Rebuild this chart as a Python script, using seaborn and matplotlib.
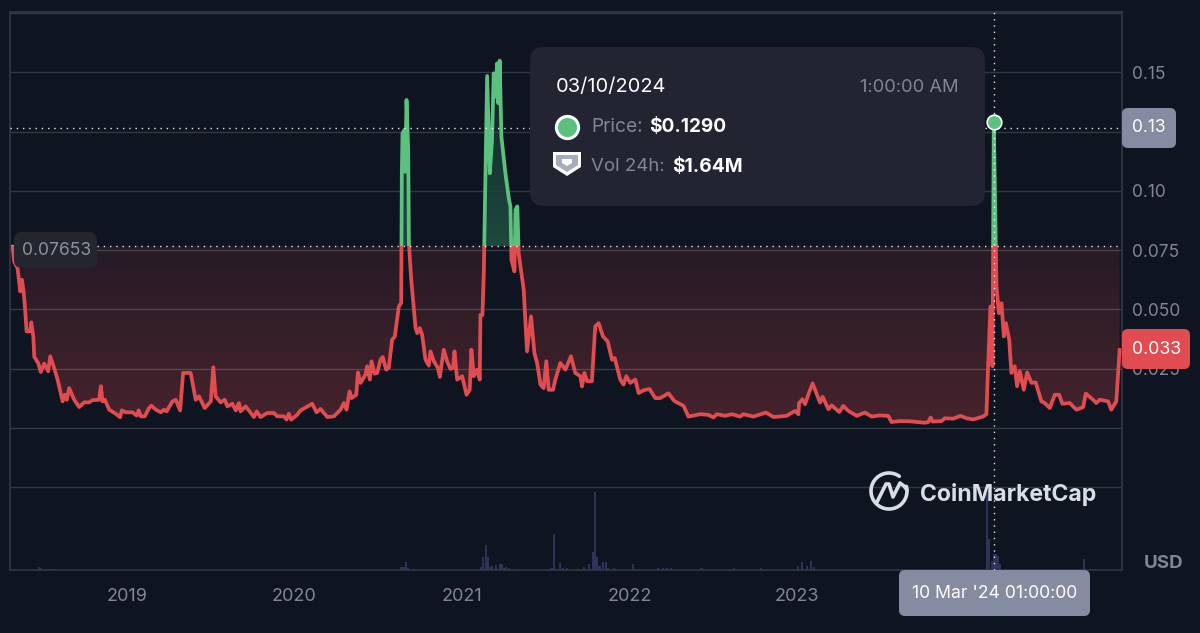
import numpy as np
import matplotlib
matplotlib.use("Agg")
import matplotlib.pyplot as plt
from matplotlib.patches import FancyBboxPatch, Polygon, Rectangle
from matplotlib.lines import Line2D
from matplotlib.transforms import Affine2D
import seaborn as sns

# Weekly price history, as decimal years and USD
price_years = [
    2018.319, 2018.328, 2018.348, 2018.364, 2018.374, 2018.384, 2018.392, 2018.402, 2018.424, 2018.430,
    2018.442, 2018.448, 2018.471, 2018.487, 2018.507, 2018.531, 2018.543, 2018.563, 2018.587, 2018.617,
    2018.630, 2018.642, 2018.656, 2018.686, 2018.716, 2018.746, 2018.775, 2018.795, 2018.835, 2018.845,
    2018.855, 2018.869, 2018.895, 2018.934, 2018.960, 2018.970, 2018.994, 2019.034, 2019.059, 2019.071,
    2019.083, 2019.107, 2019.133, 2019.147, 2019.173, 2019.203, 2019.222, 2019.238, 2019.272, 2019.292,
    2019.318, 2019.336, 2019.381, 2019.411, 2019.431, 2019.465, 2019.501, 2019.516, 2019.530, 2019.560,
    2019.584, 2019.600, 2019.630, 2019.650, 2019.669, 2019.679, 2019.709, 2019.759, 2019.775, 2019.798,
    2019.838, 2019.878, 2019.898, 2019.938, 2019.953, 2019.967, 2019.981, 2020.017, 2020.037, 2020.106,
    2020.132, 2020.156, 2020.196, 2020.236, 2020.275, 2020.295, 2020.311, 2020.329, 2020.341, 2020.369,
    2020.379, 2020.395, 2020.424, 2020.434, 2020.450, 2020.460, 2020.478, 2020.494, 2020.514, 2020.527,
    2020.547, 2020.563, 2020.583, 2020.599, 2020.623,
    2020.637, 2020.641, 2020.645, 2020.657, 2020.661, 2020.669, 2020.679, 2020.683, 2020.697, 2020.723,
    2020.733, 2020.748, 2020.762, 2020.782, 2020.802, 2020.812, 2020.832, 2020.856, 2020.868, 2020.891,
    2020.911, 2020.931, 2020.947, 2020.955, 2020.971, 2021.001, 2021.027, 2021.046, 2021.056, 2021.070,
    2021.090, 2021.106, 2021.110, 2021.122, 2021.130, 2021.150, 2021.166, 2021.179, 2021.189, 2021.199,
    2021.209, 2021.217, 2021.225, 2021.235, 2021.259, 2021.279, 2021.289, 2021.295, 2021.313, 2021.319,
    2021.330, 2021.338, 2021.368, 2021.388, 2021.412, 2021.432, 2021.448, 2021.468, 2021.487, 2021.503,
    2021.517, 2021.543, 2021.557, 2021.587, 2021.617, 2021.650, 2021.676, 2021.706, 2021.716, 2021.730,
    2021.746, 2021.775, 2021.795, 2021.815, 2021.841, 2021.869, 2021.895, 2021.911, 2021.944, 2021.964,
    2021.980, 2022.004, 2022.034, 2022.054, 2022.083, 2022.119, 2022.153, 2022.183,
    2022.232, 2022.266, 2022.322, 2022.351, 2022.421, 2022.471, 2022.500, 2022.520, 2022.570, 2022.610,
    2022.659, 2022.679, 2022.739, 2022.814, 2022.858, 2022.937, 2022.987, 2023.007, 2023.011, 2023.031,
    2023.047, 2023.067, 2023.092, 2023.136, 2023.152, 2023.186, 2023.206, 2023.251, 2023.275, 2023.305,
    2023.355, 2023.404, 2023.444, 2023.494, 2023.543, 2023.563, 2023.613, 2023.672, 2023.762, 2023.782,
    2023.796, 2023.808, 2023.861, 2023.881, 2023.931, 2023.974, 2024.010, 2024.050, 2024.109, 2024.129,
    2024.139, 2024.153, 2024.161, 2024.165, 2024.173, 2024.189, 2024.203, 2024.219, 2024.233, 2024.245,
    2024.265, 2024.278, 2024.298, 2024.312, 2024.328, 2024.352, 2024.372, 2024.398, 2024.423, 2024.457,
    2024.477, 2024.507, 2024.537, 2024.563, 2024.582, 2024.626, 2024.666, 2024.706, 2024.722, 2024.765,
    2024.785, 2024.805, 2024.855, 2024.874, 2024.904, 2024.924,
]
price_values = [
    .07653, .0702, .0674, .0576, .0625, .0576, .0512, .0407, .0407, .0445,
    .0386, .0299, .0274, .0236, .0271, .0239, .0302, .0260, .0204, .0112,
    .0140, .0119, .0168, .0119, .0088, .0108, .0108, .0117, .0119, .0176,
    .0112, .0119, .0077, .0060, .0045, .0074, .0066, .0066, .0052, .0074,
    .0049, .0049, .0084, .0094, .0077, .0066, .0077, .0070, .0112, .0119,
    .0074, .0232, .0232, .0119, .0133, .0084, .0112, .0256, .0133, .0108,
    .0119, .0091, .0102, .0074, .0105, .0070, .0091, .0046, .0070, .0046,
    .0063, .0063, .0049, .0049, .0035, .0060, .0035, .0056, .0074, .0102,
    .0066, .0080, .0046, .0049, .0077, .0105, .0077, .0154, .0126, .0140,
    .0234, .0190, .0225, .0260, .0204, .0281, .0229, .0232, .0288, .0299,
    .0246, .0253, .0372, .0386, .0512,
    .0527, .1074, .1243, .1257, .1080, .1383, .1172, .0780, .0625, .0421,
    .0400, .0421, .0393, .0288, .0263, .0323, .0281, .0253, .0215, .0330,
    .0281, .0249, .0253, .0323, .0204, .0218, .0140, .0161, .0330, .0218,
    .0246, .0204, .0477, .0477, .0653, .1484, .1074, .1214, .1495, .1397,
    .1537, .1369, .1549, .1228, .1074, .0969, .0934, .0709, .0660, .0920,
    .0934, .0737, .0583, .0323, .0470, .0316, .0274, .0183, .0168, .0281,
    .0161, .0161, .0204, .0274, .0246, .0302, .0232, .0218, .0175, .0232,
    .0197, .0197, .0428, .0442, .0386, .0365, .0288, .0295, .0204, .0183,
    .0218, .0190, .0204, .0147, .0159, .0164, .0126, .0126,
    .0146, .0114, .0093, .0048, .0058, .0055, .0044, .0058, .0051, .0058,
    .0048, .0058, .0048, .0065, .0046, .0051, .0072, .0058, .0104, .0121,
    .0100, .0142, .0188, .0107, .0131, .0079, .0095, .0067, .0093, .0072,
    .0051, .0065, .0048, .0053, .0051, .0025, .0029, .0028, .0022, .0025,
    .0044, .0027, .0029, .0041, .0039, .0051, .0041, .0036, .0048, .0058,
    .0260, .0512, .0512, .0260, .1290, .0597, .0484, .0526, .0386, .0442,
    .0372, .0232, .0260, .0176, .0239, .0161, .0234, .0190, .0192, .0112,
    .0105, .0084, .0140, .0140, .0102, .0105, .0077, .0088, .0145, .0119,
    .0105, .0119, .0112, .0077, .0112, .0330,
]

# 24h traded volume on the active days, in millions of USD
volume_years = [
    2018.477, 2018.488, 2018.511, 2018.534, 2018.557, 2018.580,
    2020.639, 2020.655, 2020.667, 2020.678,
    2021.055, 2021.112, 2021.128, 2021.141, 2021.153, 2021.169, 2021.180, 2021.203, 2021.226, 2021.237,
    2021.249, 2021.265, 2021.283, 2021.317, 2021.347, 2021.511, 2021.534, 2021.550, 2021.584, 2021.602,
    2021.625, 2021.659, 2021.693, 2021.705, 2021.727, 2021.739, 2021.757, 2021.780, 2021.794, 2021.807,
    2021.819, 2021.825, 2021.843, 2021.859, 2021.871, 2021.905, 2021.916, 2022.019, 2022.030, 2022.144,
    2022.167, 2022.201, 2022.224, 2022.247, 2022.327, 2022.429, 2022.521, 2022.578, 2022.623, 2022.680,
    2022.783, 2022.920, 2022.977, 2023.007, 2023.029, 2023.057, 2023.084, 2023.102, 2023.137, 2023.257,
    2024.133, 2024.147, 2024.163, 2024.173, 2024.186, 2024.197, 2024.209, 2024.710,
]
volume_values = [
    .27, .20, .13, .13, .13, .13,
    .27, .33, .77, .20,
    .07, .27, 1.33, 2.53, 1.27, .33, .43, .53, .60, .60,
    .20, .33, .20, .13, .13, .10, .20, 3.60, .67, .20,
    .17, .10, .07, .13, .33, .13, .60, 1.77, 7.77, 1.27,
    .43, .43, .77, .77, .20, .20, .10, .60, .10, .10,
    .20, .20, .23, .20, .07, .20, .07, .10, .17, .07,
    .20, .10, .13, .43, .77, .43, .93, .33, .10, .07,
    7.60, 3.10, .93, 1.64, 1.60, 1.43, .60, 1.10,
]

year_ticks = [2019, 2020, 2021, 2022, 2023]
price_ticks = [.15, .10, .075, .05, .025]
price_tick_labels = ["0.15", "0.10", "0.075", "0.050", "0.025"]
grid_levels = [.175, .15, .125, .10, .075, .05, .025, 0, -.025]

open_price = 0.07653
last_price = 0.033
hover_year = 2024.173
hover_price = 0.1290
hover_level = 0.1265

BG = "#0e1520"
RED = "#e04c50"
GREEN = "#5cc17f"
GREY = "#808696"
TAG = "#858ca2"
PANEL = "#222531"
GRIDC = "#323744"

W, H = 1200, 633
sns.set_theme(style="dark", rc={"axes.facecolor": BG, "figure.facecolor": BG})
plt.rcParams["font.family"] = ["Inter", "DejaVu Sans"]

fig = plt.figure(figsize=(W / 100, H / 100), dpi=100)
ax = fig.add_axes([10 / W, (H - 570) / H, 1112 / W, 558 / H])
XLIM = (2018.303, 2024.938)
YLIM = (-.0599, .1754)

py = np.array(price_years)
pv = np.array(price_values)


def gradient(colour_a, colour_b, extent, clip):
    """Vertical colour ramp from the top (a) to the bottom (b), clipped to an area."""
    ca = np.array(matplotlib.colors.to_rgb(colour_a))
    cb = np.array(matplotlib.colors.to_rgb(colour_b))
    t = np.linspace(0, 1, 256)[:, None]
    rgb = (ca * (1 - t) + cb * t)[:, None, :]
    im = ax.imshow(rgb, extent=extent, aspect="auto", zorder=1, interpolation="bilinear")
    im.set_clip_path(clip.get_paths()[0], transform=ax.transData)
    clip.set_visible(False)


# Shaded areas between the opening price and the price line
below = ax.fill_between(py, open_price, np.minimum(pv, open_price), lw=0)
above = ax.fill_between(py, open_price, np.maximum(pv, open_price), lw=0)
gradient("#261b26", "#47232d", (XLIM[0], XLIM[1], 0, open_price), below)
gradient("#10202a", "#1c4a3c", (XLIM[0], XLIM[1], open_price, .16), above)

for level in grid_levels:
    inside = 0 <= level <= .075
    ax.axhline(level, color="#ffffff" if inside else GRIDC, alpha=.17 if inside else 1, lw=1, zorder=2)

# Volume bars on their own scale, along the bottom of the chart
vol_ax = ax.twinx()
vol_ax.set_ylim(0, 55.8)
vol_ax.bar(volume_years, volume_values, width=.012, color="#2e3358", lw=0)
vol_ax.set_yticks([])
vol_ax.grid(False)
for s in vol_ax.spines.values():
    s.set_visible(False)
vol_ax.set_zorder(ax.get_zorder() - 1)
ax.patch.set_visible(False)
vol_ax.patch.set_visible(True)
vol_ax.patch.set_facecolor(BG)

# Price line, red under the opening price and green over it
span = XLIM[1] - XLIM[0]
for colour, y0, y1 in ((RED, YLIM[0], open_price), (GREEN, open_price, YLIM[1])):
    sns.lineplot(x=py, y=pv, color=colour, lw=2.7, ax=ax, sort=False, estimator=None, errorbar=None, zorder=3)
    line = ax.lines[-1]
    line.set_solid_joinstyle("round")
    line.set_clip_path(Rectangle((XLIM[0], y0), span, y1 - y0, transform=ax.transData))

# Crosshair and reference lines
dots = dict(color="white", lw=1.0, dashes=(1.0, 3.5), alpha=.9, zorder=4)
ax.axhline(open_price, xmin=.078, **dots)
ax.axhline(hover_level, **dots)
ax.axvline(hover_year, **dots)
ax.plot([hover_year], [hover_price], "o", ms=10.5, mfc=GREEN, mec="white", mew=1.2, zorder=5)

ax.set_xlim(*XLIM)
ax.set_ylim(*YLIM)
ax.set_xlabel("")
ax.set_ylabel("")
ax.grid(False)
ax.set_xticks(year_ticks)
ax.set_xticklabels([str(y) for y in year_ticks], color=GREY, fontsize=13)
ax.set_yticks(price_ticks)
ax.set_yticklabels(price_tick_labels, color=GREY, fontsize=12.5)
ax.yaxis.tick_right()
ax.tick_params(axis="both", length=0)
ax.tick_params(axis="x", pad=13)
ax.tick_params(axis="y", pad=7)
for name, s in ax.spines.items():
    s.set_color(GRIDC)
    s.set_linewidth(1.2)

# Overlays placed in screen pixels, with y counted from the top edge
px = Affine2D().scale(1, -1).translate(0, H)


def box(x0, y0, x1, y1, colour, radius=6, zorder=6):
    fig.add_artist(FancyBboxPatch((x0 + radius, y0 + radius), x1 - x0 - 2 * radius, y1 - y0 - 2 * radius,
                                  boxstyle=f"round,pad={radius},rounding_size={radius}",
                                  fc=colour, ec="none", transform=px, zorder=zorder))


def label(x, y, text, colour="white", size=12, weight="normal", ha="left"):
    fig.add_artist(plt.Text(x, y, text, color=colour, fontsize=size, fontweight=weight, ha=ha,
                            va="center", transform=px, zorder=8, family=["Inter", "DejaVu Sans"]))


# Tooltip panel
box(530, 47, 985, 206, PANEL, radius=14)
label(556, 87, "03/10/2024", size=14.4)
label(959, 88, "1:00:00 AM", GREY, 13.2, ha="right")
label(591, 127.5, "Price:", GREY, 13.8)
label(649, 127.5, "$0.1290", size=13.7, weight="bold")
label(591, 166.5, "Vol 24h:", GREY, 13.4)
label(672, 166.5, "$1.64M", size=13.8, weight="bold")
fig.add_artist(Line2D([566.5], [127], marker="o", ms=16, mfc=GREEN, mec="white", mew=2.2, transform=px, zorder=8))
fig.add_artist(Polygon([(553, 152), (581, 152), (581, 167), (567, 176), (553, 167)], fc="white", ec="none",
                       transform=px, zorder=8, joinstyle="round"))
fig.add_artist(Polygon([(556, 155), (578, 155), (578, 165), (567, 172), (556, 165)], fc="#a6abbd", ec="none",
                       transform=px, zorder=9))
fig.add_artist(Polygon([(562, 159), (572, 159), (572, 163), (567, 166), (562, 163)], fc="white", ec="none",
                       transform=px, zorder=9))

# Value tags
box(14, 232, 97, 268, "#23262f", radius=8)
label(22, 250.5, "0.07653", "#8d92a1", 12.6)
box(1122, 108, 1176, 148, TAG)
label(1132, 128, "0.13", size=12.5)
box(1122, 329, 1190, 369, RED)
label(1132, 349, "0.033", size=12.8)
box(899, 570, 1090, 616, TAG)
label(995, 594, "10 Mar '24 01:00:00", size=12.7, ha="center")
label(1144, 564, "USD", GREY, 13.5, "bold")

# CoinMarketCap mark and wordmark
angles = np.radians(np.linspace(-15, 305, 80))
fig.add_artist(Line2D(889 + 18 * np.cos(angles), 491 + 18 * np.sin(angles), color="#d9dde8", lw=2.6,
                      solid_capstyle="round", transform=px, zorder=7))
fig.add_artist(Line2D([877, 886, 889, 893, 900, 904, 907], [502, 484, 484, 497, 483, 486, 490], color="#d9dde8",
                      lw=2.6, solid_capstyle="round", solid_joinstyle="round", transform=px, zorder=7))
label(920, 494, "CoinMarketCap", "#d9dde8", 16.6, "bold")

fig.savefig("out.png", dpi=100, facecolor=BG)
